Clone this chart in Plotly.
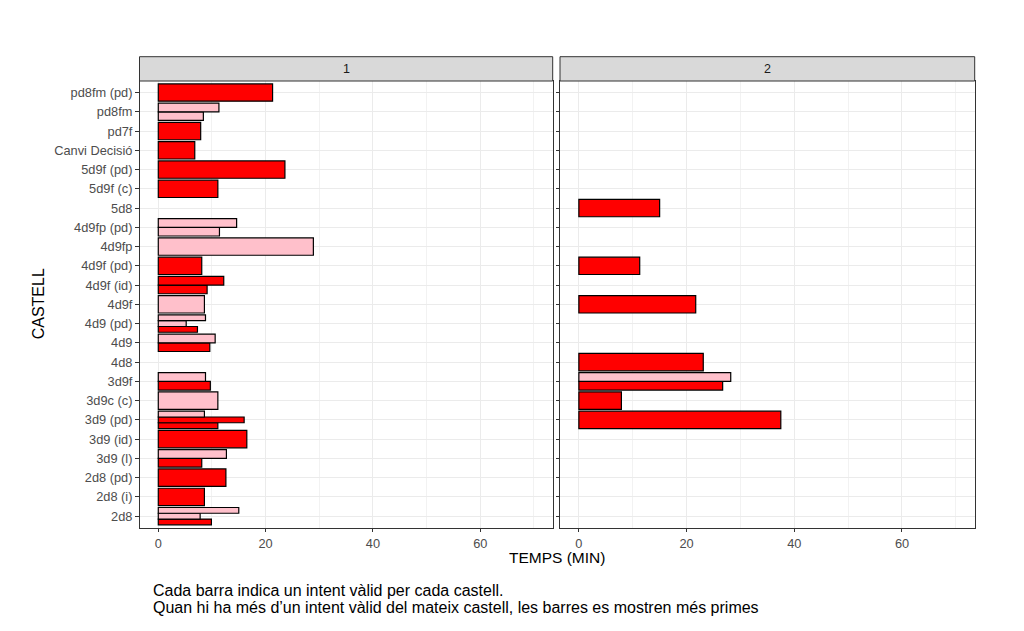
import plotly.graph_objects as go

# axis order, bottom to top
castells = ['2d8', '2d8 (i)', '2d8 (pd)', '3d9 (l)', '3d9 (id)', '3d9 (pd)',
            '3d9c (c)', '3d9f', '4d8', '4d9', '4d9 (pd)', '4d9f', '4d9f (id)',
            '4d9f (pd)', '4d9fp', '4d9fp (pd)', '5d8', '5d9f (c)', '5d9f (pd)',
            'Canvi Decisió', 'pd7f', 'pd8fm', 'pd8fm (pd)']

# one entry per valid attempt (ronda, castell, temps, tipus)
ronda = [1, 1, 1, 1, 1, 1, 1, 1, 1, 1, 1, 1, 1, 1, 1, 1, 1, 1, 1, 1,
         1, 1, 1, 1, 1, 1, 1, 1, 1, 1, 1, 1, 1,
         2, 2, 2, 2, 2, 2, 2, 2]
castell = ['2d8', '2d8', '2d8', '2d8 (i)', '2d8 (pd)', '3d9 (l)', '3d9 (l)',
           '3d9 (id)', '3d9 (pd)', '3d9 (pd)', '3d9 (pd)', '3d9c (c)',
           '3d9f', '3d9f', '4d9', '4d9', '4d9 (pd)', '4d9 (pd)', '4d9 (pd)',
           '4d9f', '4d9f (id)', '4d9f (id)', '4d9f (pd)', '4d9fp',
           '4d9fp (pd)', '4d9fp (pd)', '5d9f (c)', '5d9f (pd)',
           'Canvi Decisió', 'pd7f', 'pd8fm', 'pd8fm', 'pd8fm (pd)',
           '3d9 (pd)', '3d9c (c)', '3d9f', '3d9f', '4d8', '4d9f',
           '4d9f (pd)', '5d8']
temps = [9.9, 7.8, 15.0, 8.6, 12.6, 8.1, 12.7,
         16.5, 11.1, 16.0, 8.6, 11.1,
         9.7, 8.8, 9.6, 10.6, 7.3, 5.2, 8.8,
         8.6, 9.1, 12.2, 8.1, 28.9,
         11.4, 14.6, 11.1, 23.6,
         6.8, 7.9, 8.4, 11.3, 21.3,
         37.5, 7.9, 26.7, 28.2, 23.1, 21.7,
         11.3, 15.0]
tipus = ['D', 'C', 'C', 'D', 'D', 'D', 'C',
         'D', 'D', 'D', 'C', 'C',
         'D', 'C', 'D', 'C', 'D', 'C', 'C',
         'C', 'D', 'D', 'D', 'C',
         'C', 'C', 'D', 'D',
         'D', 'D', 'C', 'C', 'D',
         'D', 'D', 'D', 'C', 'D', 'D',
         'D', 'D']

colors = {'D': '#FF0000', 'C': '#FFC0CB'}

caption = ['Cada barra indica un intent vàlid per cada castell.',
           'Quan hi ha més d’un intent vàlid del mateix castell, les barres es mostren més primes']

# dodge: split the 0.9 band between the attempts of the same castell in a panel
counts = {}
for r, c in zip(ronda, castell):
    counts[(r, c)] = counts.get((r, c), 0) + 1
seen = {}

data = {1: dict(x=[], y=[], w=[], o=[], col=[]), 2: dict(x=[], y=[], w=[], o=[], col=[])}
for r, c, t, k in zip(ronda, castell, temps, tipus):
    n = counts[(r, c)]
    i = seen.get((r, c), 0)
    seen[(r, c)] = i + 1
    w = 0.9 / n
    d = data[r]
    d['x'].append(t)
    d['y'].append(c)
    d['w'].append(w)
    d['o'].append(-0.45 + i * w)
    d['col'].append(colors[k])

fig = go.Figure()
panels = {1: ('x', 'y'), 2: ('x2', 'y2')}
for r, (xa, ya) in panels.items():
    d = data[r]
    fig.add_trace(go.Bar(
        x=d['x'], y=d['y'], orientation='h', width=d['w'], offset=d['o'],
        marker=dict(color=d['col'], line=dict(color='black', width=1.2)),
        xaxis=xa, yaxis=ya, showlegend=False, hoverinfo='x+y'))

# page body has an 8px margin, so work in page pixels shifted by it
M = 8
W, H = 1024 - 2 * M, 631 - 2 * M


def fx(px):
    return (px - M) / W


def fy(px):
    return (H - (px - M)) / H


px1 = [fx(139.5), fx(552.7)]
px2 = [fx(560), fx(974.7)]
py = [fy(527.7), fy(81)]
strip_top = fy(56.7)

tickfont = dict(family='Liberation Sans, Arial', size=12.8, color='#4d4d4d')
xcommon = dict(range=[-3.5, 73.5], tickvals=[0, 20, 40, 60], showgrid=True,
               gridcolor='#ebebeb', gridwidth=1, zeroline=False,
               showline=True, mirror=True, linecolor='#333333', linewidth=1,
               ticks='outside', ticklen=3.5, tickcolor='#333333',
               tickfont=tickfont,
               minor=dict(tickvals=[10, 30, 50, 70], showgrid=True,
                          gridcolor='#f2f2f2', gridwidth=0.6, ticks=''))
ycommon = dict(type='category', categoryorder='array', categoryarray=castells,
               range=[-0.6, len(castells) - 0.4], showgrid=True,
               gridcolor='#ebebeb', gridwidth=1, zeroline=False,
               showline=True, mirror=True, linecolor='#333333', linewidth=1,
               ticks='outside', ticklen=3.5, tickcolor='#333333',
               tickfont=tickfont, domain=py)

fig.update_layout(
    width=W, height=H,
    margin=dict(l=0, r=0, t=0, b=0),
    paper_bgcolor='white', plot_bgcolor='white',
    barmode='overlay',
    font=dict(family='Liberation Sans, Arial', color='black'),
    xaxis=dict(domain=px1, anchor='y', **xcommon),
    xaxis2=dict(domain=px2, anchor='y2', **xcommon),
    yaxis=dict(anchor='x', **ycommon),
    yaxis2=dict(anchor='x2', showticklabels=False, **ycommon),
)

# facet strips
for i, xa in enumerate(['x', 'x2']):
    fig.add_shape(type='rect', xref=xa + ' domain', yref='paper',
                  x0=0, x1=1, y0=py[1], y1=strip_top,
                  fillcolor='#d9d9d9', line=dict(color='#333333', width=1))
    fig.add_annotation(text=str(i + 1), xref=xa + ' domain', yref='paper',
                       x=0.5, y=(py[1] + strip_top) / 2, showarrow=False,
                       xanchor='center', yanchor='middle',
                       font=dict(size=12.5, color='#1a1a1a'))

# axis titles
fig.add_annotation(text='TEMPS (MIN)', xref='paper', yref='paper',
                   x=(px1[0] + px2[1]) / 2, y=fy(557.5), showarrow=False,
                   xanchor='center', yanchor='middle', font=dict(size=15.5))
fig.add_annotation(text='CASTELL', xref='paper', yref='paper',
                   x=fx(38), y=(py[0] + py[1]) / 2, textangle=-90,
                   xanchor='center', yanchor='middle',
                   showarrow=False, font=dict(size=16))

# caption, one annotation per line
for line, ypx in zip(caption, [590, 607.5]):
    fig.add_annotation(
        text=line, xref='paper', yref='paper', x=fx(150.5), y=fy(ypx),
        xanchor='left', yanchor='middle', align='left', showarrow=False,
        font=dict(size=16))

fig.write_html("out.html")
